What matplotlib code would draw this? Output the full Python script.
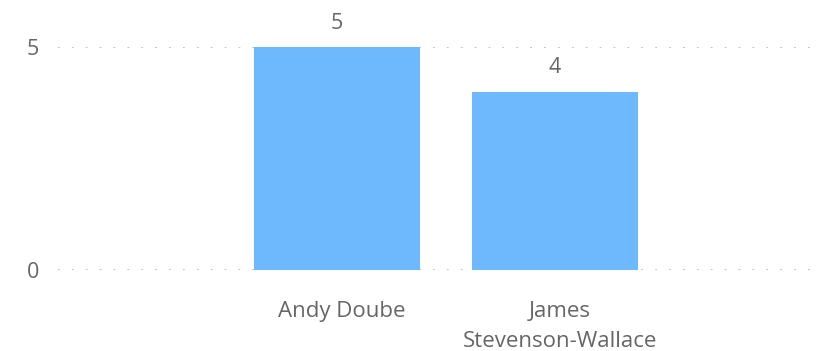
import matplotlib.pyplot as plt
import matplotlib.transforms as mtransforms

plt.rcParams['font.family'] = ['Open Sans', 'DejaVu Sans']

names = ["Andy Doube", "James\nStevenson-Wallace"]
counts = [5, 4]
yticks = [0, 5]

grey = "#666666"
bar_color = "#6EB9FE"

fig = plt.figure(figsize=(8.23, 3.51), dpi=100)
ax = fig.add_axes([58 / 823, 81 / 351, 762 / 823, 223 / 351])

x = list(range(len(names)))
bars = ax.bar(x, counts, width=0.76, color=bar_color, zorder=2)

# value labels over each bar
for rect, v in zip(bars, counts):
    ax.annotate(str(v), (rect.get_x() + rect.get_width() / 2, v),
                xytext=(0, 17), textcoords="offset points",
                ha="center", va="center", fontsize=15.5, color=grey)

ax.set_xlim(-1.28, 2.216)
ax.set_ylim(0, 5)
ax.set_yticks(yticks)
ax.set_xticks(x)
ax.set_xticklabels(names, fontsize=16, color=grey, linespacing=1.6)
ax.tick_params(axis="y", length=0, pad=18, labelsize=15.5, labelcolor=grey)
ax.tick_params(axis="x", length=0, pad=22)
for lab in ax.get_yticklabels():
    lab.set_horizontalalignment("center")

# nudge category labels slightly to the right
shift = mtransforms.ScaledTranslation(5 / 100, 0, fig.dpi_scale_trans)
for lab in ax.get_xticklabels():
    lab.set_transform(lab.get_transform() + shift)

ax.grid(axis="y", color="#b8b8b8", linestyle=(0, (1.0, 7.0)), linewidth=1.25, zorder=1)
for s in ax.spines.values():
    s.set_visible(False)

fig.savefig("out.png", dpi=100)
